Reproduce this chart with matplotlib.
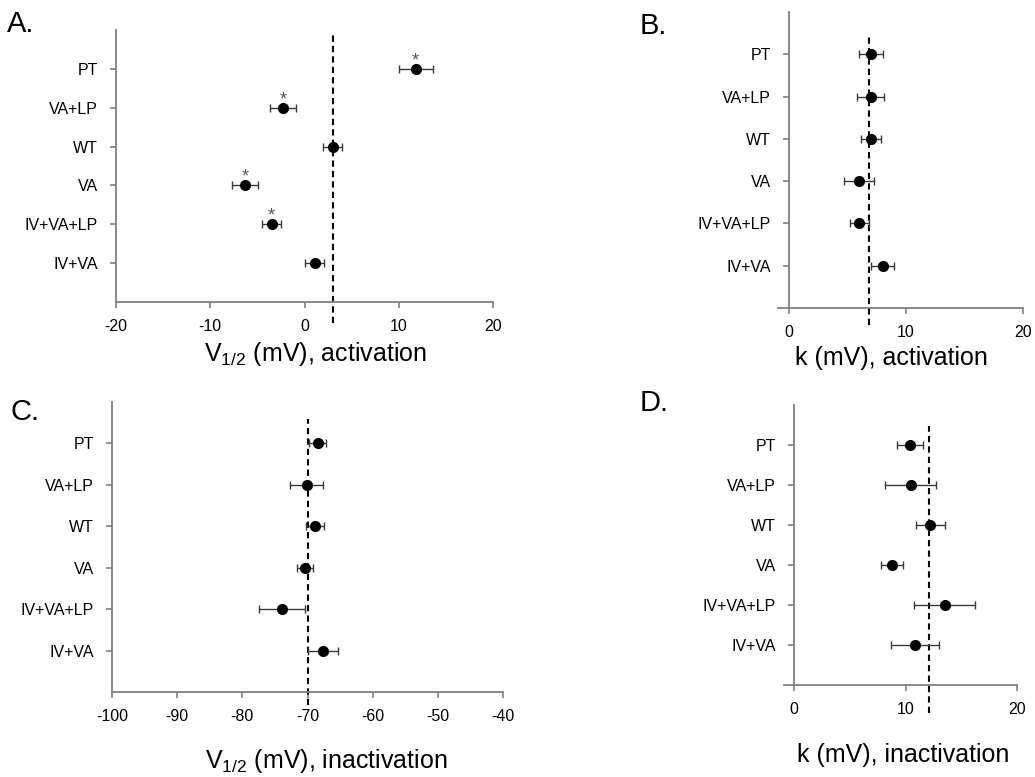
import matplotlib
matplotlib.use("Agg")
import matplotlib.pyplot as plt
import numpy as np

plt.rcParams['font.family'] = ['Liberation Sans', 'DejaVu Sans']
plt.rcParams['mathtext.fontset'] = 'custom'
plt.rcParams['mathtext.rm'] = 'Liberation Sans'
plt.rcParams['mathtext.it'] = 'Liberation Sans:italic'
plt.rcParams['mathtext.bf'] = 'Liberation Sans:bold'

categories = ["PT", "VA+LP", "WT", "VA", "IV+VA+LP", "IV+VA"]

# Panel A: V1/2 activation
a_vals = [11.8, -2.3, 3.0, -6.3, -3.5, 1.1]
a_err = [1.8, 1.35, 1.0, 1.4, 1.0, 1.0]
a_ref = 3.0
a_sig = [True, True, False, True, True, False]

# Panel B: k activation
b_vals = [7.0, 7.0, 7.0, 6.0, 6.0, 8.0]
b_err = [1.05, 1.15, 0.85, 1.3, 0.8, 0.95]
b_ref = 6.8

# Panel C: V1/2 inactivation
c_vals = [-68.4, -70.1, -68.9, -70.4, -73.9, -67.6]
c_err = [1.3, 2.55, 1.4, 1.2, 3.55, 2.25]
c_ref = -69.9

# Panel D: k inactivation
d_vals = [10.4, 10.45, 12.2, 8.8, 13.5, 10.85]
d_err = [1.15, 2.25, 1.3, 1.0, 2.7, 2.15]
d_ref = 12.1

W, H = 1035, 777
fig = plt.figure(figsize=(W / 100, H / 100), dpi=100)


def ax_at(x0, x1, ytop, ybot):
    return fig.add_axes([x0 / W, 1 - ybot / H, (x1 - x0) / W, (ybot - ytop) / H])


GRAY = '#7f7f7f'
ypos = np.arange(len(categories), 0, -1)  # PT at top


def panel(ax, vals, errs, ref, xlim, xticks, xlabel, lab_x, lab_y, dash_lo, dash_hi,
          sig=None, left_at=None):
    ax.set_ylim(0, 7)
    ax.set_xlim(*xlim)
    for s in ['top', 'right']:
        ax.spines[s].set_visible(False)
    for s in ['left', 'bottom']:
        ax.spines[s].set_color(GRAY)
        ax.spines[s].set_linewidth(1.3)
    if left_at is not None:
        ax.spines['left'].set_position(('data', left_at))
    ax.plot([ref, ref], [dash_lo, dash_hi], color='black', lw=1.5,
            ls=(0, (3, 2)), clip_on=False, zorder=2)
    ax.errorbar(vals, ypos, xerr=errs, fmt='o', color='black', ms=7,
                ecolor='#3a3a3a', elinewidth=1.0, capsize=3, capthick=1.0, zorder=3)
    if sig is not None:
        for v, y, s in zip(vals, ypos, sig):
            if s:
                ax.annotate('*', (v, y), xytext=(0, 2.5), textcoords='offset points',
                            ha='center', va='baseline', fontsize=13, color='#555555')
    ax.set_yticks(ypos)
    ax.set_yticklabels(categories)
    ax.set_xticks(xticks)
    ax.set_xticklabels([str(t) for t in xticks])
    ax.tick_params(axis='y', length=4, width=1.2, color=GRAY, pad=9, labelsize=11.5)
    ax.tick_params(axis='x', length=4, width=1.2, color=GRAY, pad=8, labelsize=11.5)
    ax.set_xlabel(xlabel, fontsize=18)
    ax.xaxis.set_label_coords(lab_x, lab_y)
    ax.xaxis.label.set_va('center')


axA = ax_at(116, 493, 30, 302)
panel(axA, a_vals, a_err, a_ref, (-20, 20), [-20, -10, 0, 10, 20],
      r'V$_{\mathrm{1/2}}$ (mV), activation', 0.53, -52 / 272, -0.54, 6.92, sig=a_sig)

axB = ax_at(778, 1023, 12, 308)
panel(axB, b_vals, b_err, b_ref, (-0.94, 20), [0, 10, 20],
      'k (mV), activation', 0.463, -50 / 296, -0.4, 6.46, left_at=0)

axC = ax_at(112, 503, 402, 692)
panel(axC, c_vals, c_err, c_ref, (-100, -40), [-100, -90, -80, -70, -60, -50, -40],
      r'V$_{\mathrm{1/2}}$ (mV), inactivation', 0.549, -69 / 290, -0.32, 6.58)

axD = ax_at(784, 1017, 405, 685)
panel(axD, d_vals, d_err, d_ref, (-0.9, 20), [0, 10, 20],
      'k (mV), inactivation', 0.511, -70 / 280, -0.7, 6.47, left_at=0)

for txt, x, y in [('A.', 7, 24), ('B.', 640, 26), ('C.', 10, 412), ('D.', 640, 403)]:
    fig.text(x / W, 1 - y / H, txt, fontsize=21, ha='left', va='center')

fig.savefig('out.png', dpi=100)
